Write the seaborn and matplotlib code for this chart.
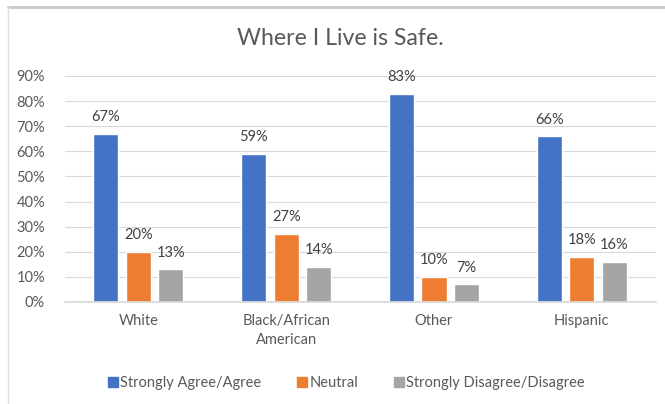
import numpy as np
import pandas as pd
import matplotlib
matplotlib.use("Agg")
import matplotlib.pyplot as plt
import seaborn as sns
from matplotlib.lines import Line2D

groups = ["White", "Black/African\nAmerican", "Other", "Hispanic"]
responses = ["Strongly Agree/Agree", "Neutral", "Strongly Disagree/Disagree"]
agree = [0.67, 0.59, 0.83, 0.66]
neutral = [0.20, 0.27, 0.10, 0.18]
disagree = [0.13, 0.14, 0.07, 0.16]
colors = ["#4472C4", "#ED7D31", "#A5A5A5"]

df = pd.DataFrame({
    "group": groups * 3,
    "response": [responses[0]] * 4 + [responses[1]] * 4 + [responses[2]] * 4,
    "value": agree + neutral + disagree,
})

sns.set_theme(style="white")
plt.rcParams["font.family"] = ["Lato", "DejaVu Sans"]
text_col = "#595959"

fig = plt.figure(figsize=(6.65, 4.04), dpi=100)
ax = fig.add_axes([0.097, 0.2525, 0.889, 0.5594])

sns.barplot(data=df, x="group", y="value", hue="response", order=groups,
            hue_order=responses, palette=colors, width=0.66, gap=0.23,
            saturation=1, ax=ax, legend=False)

for cont in ax.containers:
    ax.bar_label(cont, labels=[f"{v*100:.0f}%" for v in cont.datavalues],
                 padding=7, fontsize=10.5, color="#404040")

ax.set_ylim(0, 0.9)
ax.set_yticks(np.arange(0, 0.91, 0.1))
ax.set_yticklabels([f"{int(round(t*100))}%" for t in np.arange(0, 0.91, 0.1)])
ax.yaxis.grid(True, color="#D9D9D9", linewidth=0.8)
ax.set_axisbelow(True)
for s in ["top", "right", "left"]:
    ax.spines[s].set_visible(False)
ax.spines["bottom"].set_color("#D9D9D9")
ax.tick_params(axis="both", length=0, labelsize=10.5, colors=text_col)
ax.tick_params(axis="x", pad=9)
ax.tick_params(axis="y", pad=14)
for lab in ax.get_xticklabels():
    lab.set_linespacing(1.45)
ax.set_xlabel("")
ax.set_ylabel("")

fig.text(0.511, 0.905, "Where I Live is Safe.", ha="center", va="center",
         fontsize=16.7, color=text_col)

handles = [Line2D([], [], marker="s", linestyle="", markersize=6.5,
                  markerfacecolor=c, markeredgecolor=c) for c in colors]
fig.legend(handles, responses, loc="center", bbox_to_anchor=(0.52, 0.052),
           ncol=3, frameon=False, fontsize=10.5, labelcolor=text_col,
           handletextpad=0.1, columnspacing=2.4, handlelength=0.8)

# chart frame
fig.add_artist(Line2D([0.012, 1.0], [0.982, 0.982], color="#C8C8C8", linewidth=2,
                      transform=fig.transFigure))
fig.add_artist(Line2D([0.012, 0.012], [0.0, 0.982], color="#E0E0E0", linewidth=1,
                      transform=fig.transFigure))

fig.savefig("out.png", dpi=100)
